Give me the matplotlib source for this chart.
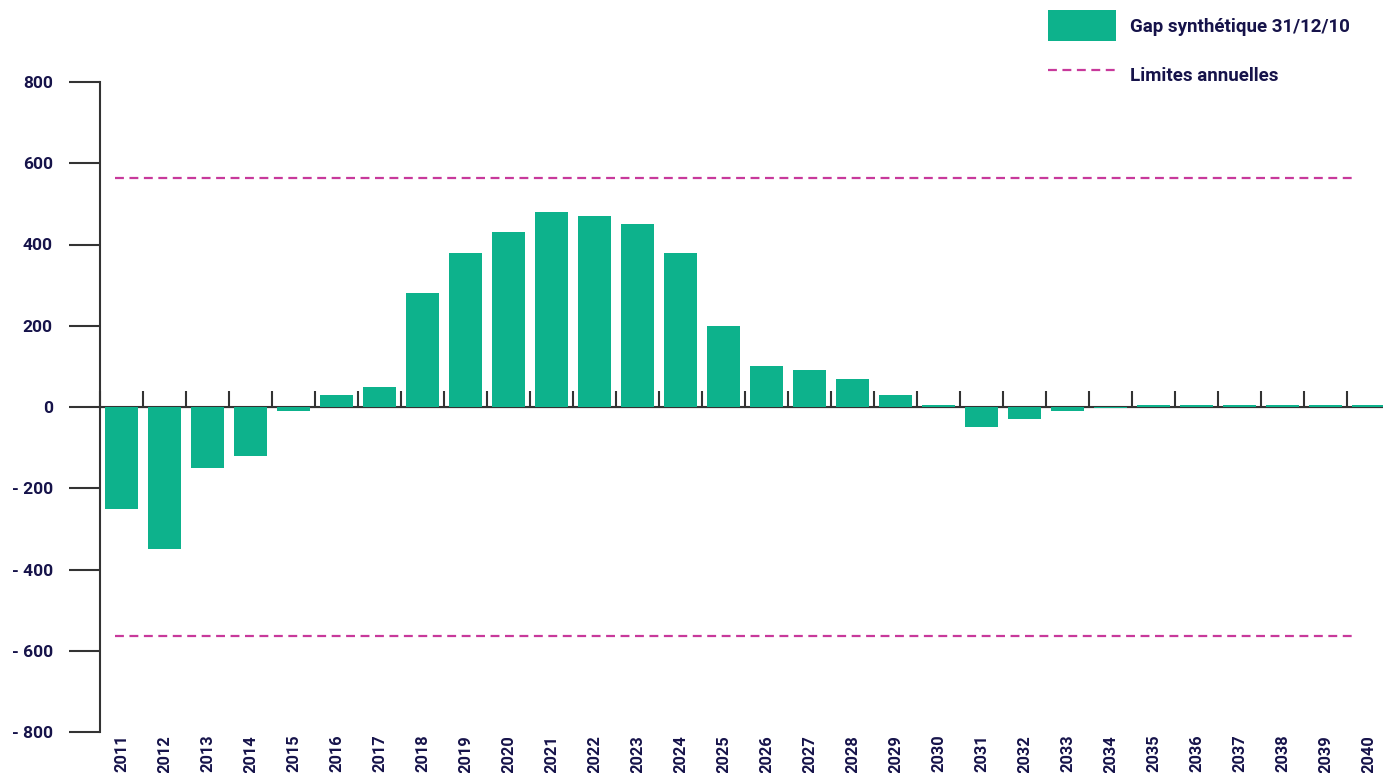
import numpy as np
import matplotlib
matplotlib.use("Agg")
import matplotlib.pyplot as plt
from matplotlib.patches import Patch
from matplotlib.lines import Line2D

# data
years = [str(y) for y in range(2011, 2041)]
gap = [-250, -350, -150, -120, -10, 30, 50, 280, 380, 430,
       480, 470, 450, 380, 200, 100, 90, 70, 30, 5,
       -50, -30, -10, -2, 5, 5, 5, 5, 5, 5]
limit = 564
yticks = [-800, -600, -400, -200, 0, 200, 400, 600, 800]
ytick_labels = ["- 800", "- 600", "- 400", "- 200", "0", "200", "400", "600", "800"]

green = "#0db28c"
magenta = "#c8399b"
navy = "#16134a"
dark = "#333333"

plt.rcParams['font.family'] = ['Roboto', 'DejaVu Sans']

fig = plt.figure(figsize=(13.83, 7.73), dpi=100)
ax = fig.add_axes([100 / 1383, 1 - 732 / 773, 1 - 100 / 1383, (732 - 82) / 773])

x = np.arange(len(years))
ax.bar(x, gap, width=0.75, color=green, zorder=3)
ax.axhline(0, color=dark, lw=1.5, zorder=2)
ax.hlines([limit, -limit], -0.15, 28.7, colors=magenta, linestyles=(0, (4, 2.5)), lw=1.6, zorder=4)

ax.set_xlim(-0.5, 29.34)
ax.set_ylim(-800, 800)

for s in ["top", "right", "bottom"]:
    ax.spines[s].set_visible(False)
ax.spines["left"].set_color(dark)
ax.spines["left"].set_linewidth(1.5)

ax.set_yticks(yticks)
ax.set_yticklabels(ytick_labels)
ax.tick_params(axis="y", length=22, width=1.5, color=dark, pad=12,
               labelsize=12.5, labelcolor=navy)
for t in ax.get_yticklabels():
    t.set_fontweight("bold")

ax.set_xticks(x)
ax.set_xticklabels(years, rotation=90, fontsize=11.8, color=navy, fontweight="bold")
ax.tick_params(axis="x", length=0, pad=2)

# small ticks on the zero line between categories, pointing up
sec = ax.secondary_xaxis(0.5)
sec.set_xticks(np.arange(-0.5, 29, 1.0))
sec.set_xticklabels([])
sec.tick_params(axis="x", direction="out", length=11.5, width=1.5, color=dark)
sec.spines["bottom"].set_visible(False)

handles = [Patch(facecolor=green, edgecolor="none"),
           Line2D([0], [0], color=magenta, lw=1.6, linestyle=(0, (4, 2.5)))]
leg = fig.legend(handles, ["Gap synthétique 31/12/10", "Limites annuelles"],
                 loc="upper left", bbox_to_anchor=(1048 / 1383, 1 - 10 / 773),
                 frameon=False, borderpad=0, borderaxespad=0,
                 handlelength=3.6, handleheight=2.2, handletextpad=0.8,
                 labelspacing=0.95, fontsize=13.5)
for t in leg.get_texts():
    t.set_color(navy)
    t.set_fontweight("bold")

fig.savefig("out.png", dpi=100)
